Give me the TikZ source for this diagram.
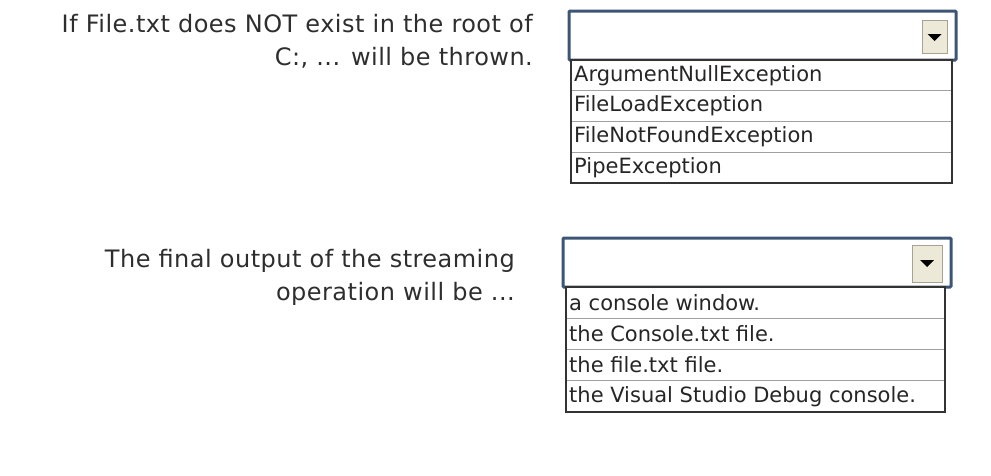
\documentclass[tikz,border=0pt]{standalone}
\usepackage{fontspec}
\setmainfont{DejaVu Sans}
\newfontfamily\QuestionFont[LetterSpace=2]{DejaVu Sans}
\definecolor{FrameBlue}{HTML}{3D5575}
\definecolor{ButtonFace}{HTML}{ECE9D8}
\definecolor{ButtonShade}{HTML}{A7A391}
\definecolor{LabelGray}{HTML}{2E2E2E}
\definecolor{RowLine}{HTML}{A0A0A0}
\begin{document}
\begin{tikzpicture}[x=1pt,y=-1pt,
    QuestionText/.style={font=\QuestionFont\fontsize{24}{33}\selectfont, text=LabelGray,
      align=right, anchor=base east, inner sep=0pt},
    ItemText/.style={font=\fontsize{21}{21}\selectfont, text=black!85, anchor=west, inner sep=0pt},
    ComboFrame/.style={draw=FrameBlue, line width=3pt, fill=white, rounded corners=1pt},
    DropButton/.style={fill=ButtonFace, draw=ButtonShade, line width=0.6pt},
    ListFrame/.style={draw=black!80, line width=1.4pt, fill=white}]
  \useasboundingbox (0,0) rectangle (991,475);
  \def\RowH{30.75}
  % first question
  \node[QuestionText] (q1) at (533,65) {If File.txt does NOT exist in the root of\\C:, ... will be thrown.};
  \draw[ComboFrame] (569,11) rectangle (956,60);
  \draw[DropButton] (922,20) rectangle (947,53);
  \fill[black] (927.5,34) -- (941.5,34) -- (934.5,41) -- cycle;
  \draw[ListFrame] (571,60) rectangle (952,183);
  \foreach \i in {1,2,3}
    \draw[RowLine, line width=0.6pt] (572,60+\i*\RowH) -- (951,60+\i*\RowH);
  \foreach \txt [count=\i] in {ArgumentNullException,FileLoadException,FileNotFoundException,PipeException}
    \node[ItemText] (a\i) at (574,60+\i*\RowH-0.5*\RowH) {\txt};
  % second question
  \node[QuestionText] (q2) at (515,300) {The final output of the streaming\\operation will be ...};
  \draw[ComboFrame] (563,238) rectangle (951,287);
  \draw[DropButton] (912,245) rectangle (942,282);
  \fill[black] (920,260) -- (934,260) -- (927,267) -- cycle;
  \draw[ListFrame] (566,287) rectangle (945,412);
  \foreach \i in {1,2,3}
    \draw[RowLine, line width=0.6pt] (567,287+\i*31.25) -- (944,287+\i*31.25);
  \foreach \txt [count=\i] in {a console window.,the Console.txt file.,the file.txt file.,the Visual Studio Debug console.}
    \node[ItemText] (b\i) at (569,287+\i*31.25-15.625) {\txt};
\end{tikzpicture}
\end{document}
